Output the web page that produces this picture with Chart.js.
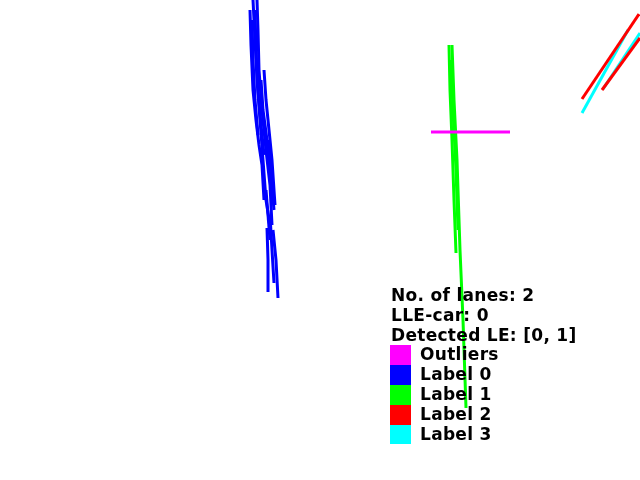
<!DOCTYPE html>
<html>
<head>
<meta charset="utf-8">
<script src="https://cdn.jsdelivr.net/npm/chart.js@4"></script>
<style>
    body { margin: 0; background: #fff; }
    #wrap { position: relative; width: 640px; height: 480px; }
    #legend {
        position: absolute; left: 391px; top: 286px;
        font-family: "DejaVu Sans", sans-serif; font-weight: bold;
        font-size: 17px; color: #000; line-height: 19.8px; letter-spacing: 0.3px;
    }
    .row { height: 19.8px; display: flex; align-items: center; white-space: nowrap; }
    .box { width: 21px; height: 19.8px; margin-right: 9px; margin-left: -1px; }
</style>
</head>
<body>
<div id="wrap">
    <canvas id="laneChart" width="640" height="480"></canvas>
    <div id="legend"></div>
</div>
<script>
// info lines and legend entries
const infoLines = ['No. of lanes: 2', 'LLE-car: 0', 'Detected LE: [0, 1]'];
const legendLabels = ['Outliers', 'Label 0', 'Label 1', 'Label 2', 'Label 3'];
const legendColors = ['#ff00ff', '#0000ff', '#00ff00', '#ff0000', '#00ffff'];

// line pieces per label, as [x, y] pixel-space points of the image
const outlierLines = [
    [[431, 132], [510, 132]]
];
const label0Lines = [
    [[250, 10], [251, 45], [253, 90], [256, 120], [259, 145], [262, 165], [264, 200]],
    [[253, 0], [255, 40], [257, 80], [260, 120], [263, 160], [266, 200], [270, 225]],
    [[257, 0], [258, 30], [259, 70], [262, 110], [266, 150], [270, 185], [272, 225]],
    [[264, 70], [266, 100], [269, 130], [272, 160], [275, 205]],
    [[252, 20], [253, 60], [255, 100], [258, 135]],
    [[255, 10], [256, 50], [258, 90], [261, 125], [264, 155]],
    [[261, 80], [263, 110], [267, 140], [270, 170], [273, 200]],
    [[268, 140], [271, 175], [274, 210]],
    [[266, 190], [268, 215], [270, 240]],
    [[267, 228], [268, 260], [268, 292]],
    [[270, 215], [272, 250], [274, 283]],
    [[273, 230], [276, 260], [278, 298]]
];
const label1Lines = [
    [[452, 45], [454, 100], [457, 160], [460, 250], [463, 320], [466, 408]],
    [[449, 45], [450, 90], [452, 140], [454, 200], [456, 253]],
    [[451, 60], [453, 110], [456, 170], [458, 230]]
];
const label2Lines = [
    [[582, 99], [639, 14]],
    [[602, 90], [640, 38]]
];
const label3Lines = [
    [[582, 113], [628, 30]],
    [[603, 89], [640, 33]]
];

const groups = [outlierLines, label0Lines, label1Lines, label2Lines, label3Lines];

let datasets = [];
groups.forEach((lines, i) => {
    lines.forEach(pts => {
        datasets.push({
            data: pts.map(p => ({ x: p[0], y: p[1] })),
            showLine: true,
            borderColor: legendColors[i],
            borderWidth: 3,
            pointRadius: 0,
            fill: false,
            tension: 0
        });
    });
});

new Chart(document.getElementById('laneChart'), {
    type: 'scatter',
    data: { datasets: datasets },
    options: {
        responsive: false,
        animation: false,
        devicePixelRatio: 1,
        layout: { padding: 0 },
        plugins: { legend: { display: false }, tooltip: { enabled: false } },
        scales: {
            x: { type: 'linear', min: 0, max: 640, display: false },
            y: { type: 'linear', min: 0, max: 480, reverse: true, display: false }
        }
    }
});

// text block on top of the image
let html = '';
infoLines.forEach(t => { html += `<div class="row">${t}</div>`; });
legendLabels.forEach((t, i) => {
    html += `<div class="row"><div class="box" style="background:${legendColors[i]}"></div>${t}</div>`;
});
document.getElementById('legend').innerHTML = html;
</script>
</body>
</html>
